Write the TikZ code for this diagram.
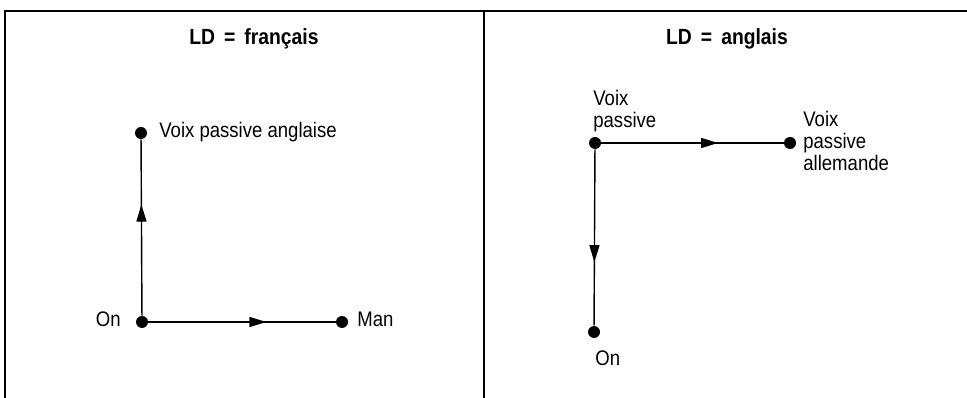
\documentclass[tikz,border=0pt]{standalone}
\usepackage{fontspec}
\setmainfont[FakeStretch=0.88]{Liberation Sans}
\usepackage{tikz}
\usetikzlibrary{arrows.meta, decorations.markings, positioning}
\tikzset{
	frame/.style={line width=1.1pt},
	dot/.style={circle, fill, inner sep=0pt, minimum size=0.24cm},
	lbl/.style={inner sep=0pt, font=\fontsize{12}{12.5}\selectfont, align=left},
	ttl/.style={inner sep=0pt, font=\fontsize{12.5}{14}\selectfont\bfseries},
	midarrow/.style={line width=0.8pt, postaction={decorate},
		decoration={markings, mark=at position #1 with {\arrow{Triangle[length=0.34cm,width=0.2cm]}}}}
}

\begin{document}
\begin{tikzpicture}[x=0.02cm, y=-0.02cm]
		\useasboundingbox (0,0) rectangle (967,398);
		% cadre
		\draw[frame](5,398)--(5,11)--(967,11);
		\draw[frame](484,11)--(484,398);
		\node[ttl, anchor=base](tfr) at (254,45){LD \,=\, français};
		\node[ttl, anchor=base](ten) at (727,45){LD \,=\, anglais};
		% LD = francais
		\node[dot](on1) at (142,322){};
		\node[dot](vpa) at (141,133){};
		\node[dot](man) at (342,322){};
		\node[lbl, anchor=base west](vpaT) at (159,138){Voix passive anglaise};
		\node[lbl, anchor=base east](on1T) at (121,327){On};
		\node[lbl, anchor=base west](manT) at (357,327){Man};
		\draw[midarrow=0.63](on1)--(vpa);
		\draw[midarrow=0.63](on1)--(man);
		% LD = anglais
		\node[dot](vp) at (595,143){};
		\node[dot](vpal) at (790,143){};
		\node[dot](on2) at (594,332){};
		\node[lbl, anchor=south west](vpT) at (593,132){Voix\\passive};
		\node[lbl, anchor=west](vpalT) at (803,141){Voix\\passive\\allemande};
		\node[lbl, anchor=base west](on2T) at (595,366){On};
		\draw[midarrow=0.64](vp)--(vpal);
		\draw[midarrow=0.64](vp)--(on2);
	\end{tikzpicture}
\end{document}
